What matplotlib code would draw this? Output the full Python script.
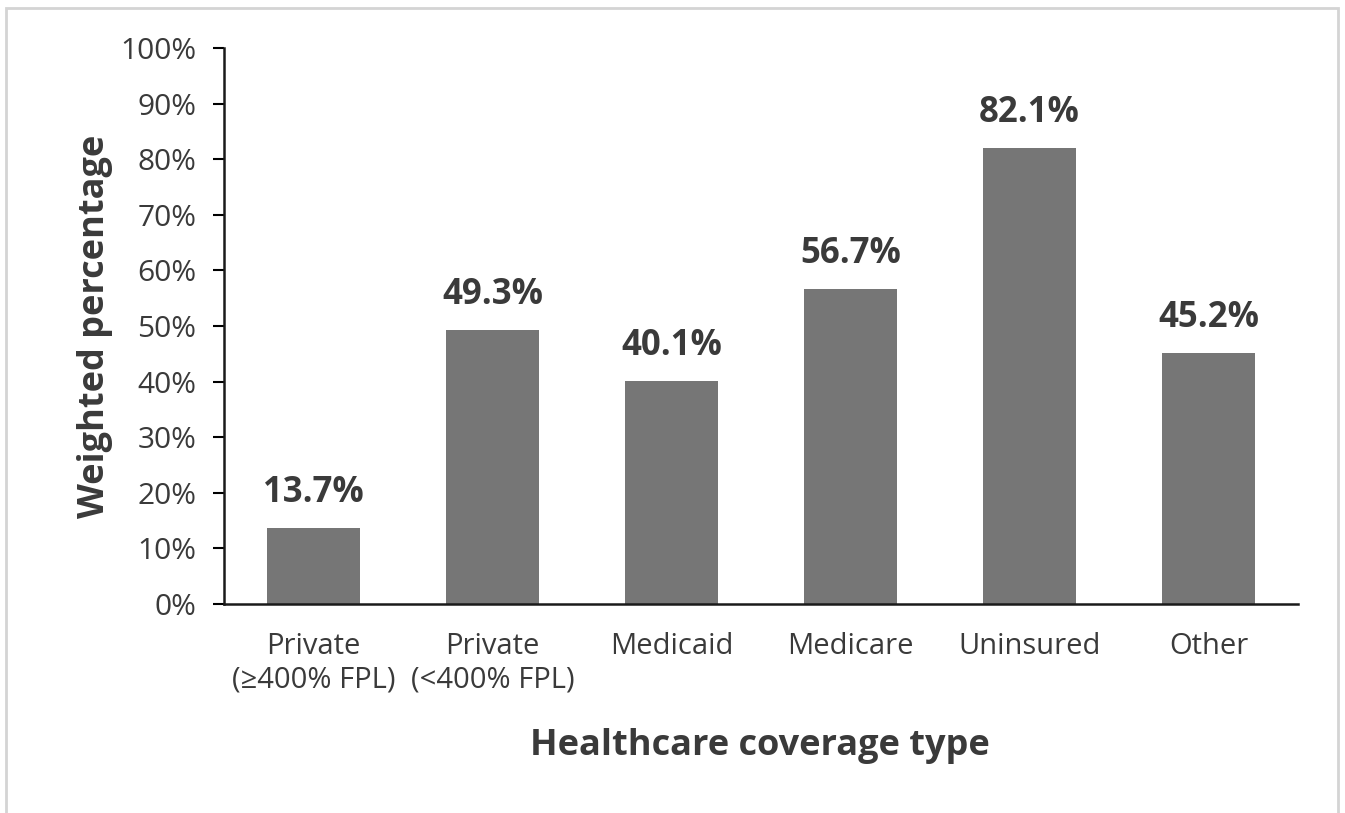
import matplotlib
matplotlib.use("Agg")
import matplotlib.pyplot as plt
from matplotlib.patches import Rectangle
from matplotlib.ticker import PercentFormatter

plt.rcParams['font.family'] = ['Open Sans', 'DejaVu Sans']

categories = ['Private\n(≥400% FPL)', 'Private\n(<400% FPL)', 'Medicaid',
              'Medicare', 'Uninsured', 'Other']
values = [13.7, 49.3, 40.1, 56.7, 82.1, 45.2]
yticks = list(range(0, 101, 10))

TEXT = '#3a3a3a'
BAR = '#767676'

fig = plt.figure(figsize=(13.45, 8.13), dpi=100)
ax = fig.add_axes([0.1665, 0.257, 0.7985, 0.684])

x = range(len(categories))
bars = ax.bar(x, values, width=0.52, color=BAR, zorder=2)
for b, v in zip(bars, values):
    ax.annotate(f'{v:.1f}%', (b.get_x() + b.get_width() / 2, v),
                xytext=(0, 12), textcoords='offset points',
                ha='center', va='bottom', fontsize=25, fontweight='bold',
                color=TEXT)

ax.set_xlim(-0.5, len(categories) - 0.5)
ax.set_ylim(0, 100)
ax.set_yticks(yticks)
ax.yaxis.set_major_formatter(PercentFormatter(decimals=0))
ax.set_xticks(list(x))
ax.set_xticklabels(categories, fontsize=21, color=TEXT, linespacing=1.2)
ax.tick_params(axis='x', length=0, pad=20)
ax.tick_params(axis='y', length=8, width=1.5, labelsize=21.5, labelcolor=TEXT,
               pad=12, direction='out')

for s in ('top', 'right'):
    ax.spines[s].set_visible(False)
for s in ('left', 'bottom'):
    ax.spines[s].set_linewidth(1.8)
    ax.spines[s].set_color('#1a1a1a')

fig.text(0.071, 0.599, 'Weighted percentage', rotation=90, ha='center',
         va='center', fontsize=26, fontweight='bold', color=TEXT)
fig.text(0.565, 0.083, 'Healthcare coverage type', ha='center', va='center',
         fontsize=26, fontweight='bold', color=TEXT)

# light frame around the chart area
fig.patches.append(Rectangle((6 / 1345, -0.01), 1332 / 1345, 1 - 8 / 813 + 0.01,
                             transform=fig.transFigure, fill=False,
                             edgecolor='#d4d4d4', linewidth=2))

fig.savefig('out.png', dpi=100)
